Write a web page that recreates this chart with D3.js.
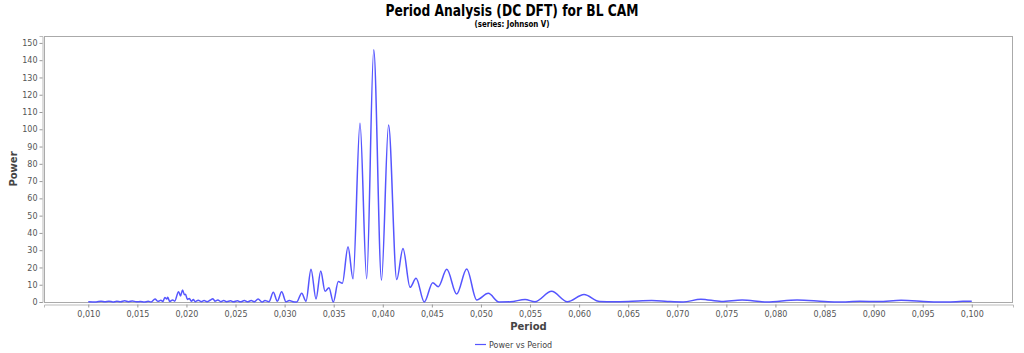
<!DOCTYPE html>
<html><head><meta charset="utf-8">
<script src="https://cdn.jsdelivr.net/npm/d3@7"></script>
<style>body{margin:0;background:#fff}svg{display:block}</style>
</head><body>
<svg id="c" width="1024" height="353"></svg>
<script>
const periods = [
0.0100,0.0108,0.0113,0.0117,0.0121,0.0125,0.0129,0.0133,0.0137,0.0141,0.0145,0.0149,0.0153,0.0157,0.0161,0.0164,
0.0168,0.0171,0.0174,0.0176,0.0178,0.0180,0.0181,0.0183,0.0186,0.0188,0.0192,0.0194,0.0196,0.0198,0.0199,0.0201,
0.0203,0.0205,0.0207,0.0209,0.0212,0.0215,0.0218,0.0221,0.0224,0.0227,0.0229,0.0232,0.0235,0.0238,0.0241,0.0245,
0.0248,0.0252,0.0255,0.0259,0.0262,0.0266,0.0269,0.0273,0.0277,0.0280,0.02841,0.02885,0.02926,0.02970,0.03014,0.03048,
0.03086,0.03123,0.03174,0.03218,0.03269,0.0332,0.03368,0.03412,0.03452,0.03496,0.03547,0.03588,0.03646,0.03697,0.03768,
0.03836,0.03908,0.03987,0.04059,0.04142,0.04206,0.04278,0.04339,0.04423,0.04509,0.04566,0.04652,0.04753,0.04855,0.04957,
0.05075,0.05184,0.0530,0.0545,0.0555,0.0572,0.0588,0.0605,0.0621,0.0635,0.0650,0.0674,0.0690,0.0706,0.0724,0.0745,
0.0766,0.0791,0.0822,0.0850,0.0864,0.0886,0.0905,0.0928,0.0956,0.0974,0.0991,0.1000];
const powers = [
0.2,0.0,0.5,0.1,0.5,0.0,0.4,0.1,0.7,0.2,0.6,0.1,0.3,0.0,0.4,0.0,
1.7,0.4,1.0,0.3,2.6,1.8,2.7,0.3,1.2,0.5,6.0,3.5,7.0,4.2,4.5,1.5,
2.0,0.4,1.4,0.2,1.0,0.2,0.9,0.2,1.0,1.9,0.5,1.2,0.2,0.9,0.2,0.7,
0.1,0.7,0.1,0.8,0.1,0.8,0.1,1.7,0.0,0.8,0.2,5.6,0.5,5.9,0.1,0.9,
0.2,0.0,5.1,0.5,19.0,1.8,18.0,6.2,8.3,0.0,11.8,10.8,32.0,13.4,103.5,
13.5,146.0,12.7,102.5,13.0,31.0,8.5,13.7,0.0,11.2,8.9,18.9,4.6,19.1,1.2,
5.0,0.0,0.1,1.5,0.1,6.2,0.1,4.3,0.3,0.2,0.3,0.8,0.3,0.0,1.6,0.3,
1.2,0.0,1.2,0.3,0.0,0.4,0.3,1.0,0.2,0.0,0.4,0.5];
const yTicks = d3.range(0, 151, 10);
const xTicks = d3.range(0.010, 0.1001, 0.005);
const titleText = "Period Analysis (DC DFT) for BL CAM";
const subtitleText = "(series: Johnson V)";
const xLabel = "Period", yLabel = "Power", legendLabel = "Power vs Period";

const svg = d3.select("#c");
const L = 44, R = 1013, T = 36, B = 302;
const x = d3.scaleLinear().domain([0.00549, 0.1042]).range([L, R]);
const y = d3.scaleLinear().domain([0, 154]).range([B, T]);
const col = "#5555ff", tickCol = "#555";

svg.append("rect").attr("x", L+0.5).attr("y", T+0.5).attr("width", R-L-1).attr("height", B-T)
  .attr("fill", "#fff").attr("stroke", "#aaa");

const fmtX = v => d3.format(".3f")(v).replace(".", ",");
const gx = svg.append("g").attr("transform", `translate(0,${B+2.5})`)
  .call(d3.axisBottom(x).tickValues(xTicks).tickFormat(fmtX).tickSize(3).tickPadding(4));
const gy = svg.append("g").attr("transform", `translate(${L-1.5},0)`)
  .call(d3.axisLeft(y).tickValues(yTicks).tickFormat(d3.format("d")).tickSize(3).tickPadding(2));
[gx, gy].forEach(g => {
  g.select(".domain").attr("stroke", "#bbb");
  g.selectAll(".tick line").attr("stroke", "#999");
  g.selectAll("text").attr("fill", tickCol).style("font-family", "DejaVu Sans, sans-serif").style("font-size", "8px");
});

const data = periods.map((p, i) => [p, powers[i]]);
svg.append("path").datum(data)
  .attr("d", d3.line().x(d => x(d[0])).y(d => y(d[1])).curve(d3.curveMonotoneX))
  .attr("fill", "none").attr("stroke", col).attr("stroke-width", 1.5).attr("stroke-linejoin", "round");

svg.append("text").attr("x", 512).attr("y", 16).attr("text-anchor", "middle")
  .attr("textLength", 253).attr("lengthAdjust", "spacingAndGlyphs")
  .style("font-family", "DejaVu Sans Condensed, DejaVu Sans, sans-serif").style("font-weight", "bold").style("font-size", "15px")
  .attr("fill", "#000").text(titleText);
svg.append("text").attr("x", 512).attr("y", 27).attr("text-anchor", "middle")
  .attr("textLength", 75).attr("lengthAdjust", "spacingAndGlyphs")
  .style("font-family", "DejaVu Sans Condensed, DejaVu Sans, sans-serif").style("font-weight", "bold").style("font-size", "8px")
  .attr("fill", "#000").text(subtitleText);

svg.append("text").attr("x", (L+R)/2).attr("y", 330).attr("text-anchor", "middle")
  .style("font-family", "DejaVu Sans, sans-serif").style("font-weight", "bold").style("font-size", "10px")
  .attr("fill", "#444").text(xLabel);
svg.append("text").attr("transform", `translate(17,${(T+B)/2}) rotate(-90)`).attr("text-anchor", "middle")
  .style("font-family", "DejaVu Sans, sans-serif").style("font-weight", "bold").style("font-size", "10px")
  .attr("fill", "#444").text(yLabel);

svg.append("line").attr("x1", 475).attr("x2", 486).attr("y1", 344.5).attr("y2", 344.5).attr("stroke", col).attr("stroke-width", 1.2);
svg.append("text").attr("x", 489).attr("y", 347.5)
  .style("font-family", "DejaVu Sans, sans-serif").style("font-size", "8px").attr("fill", "#444").text(legendLabel);
</script>
</body></html>
